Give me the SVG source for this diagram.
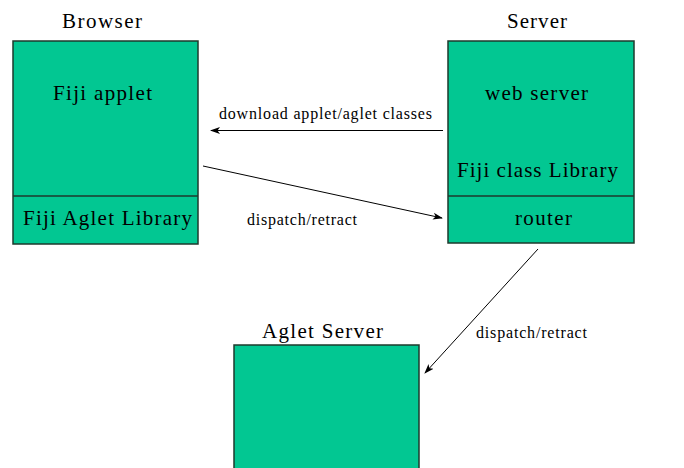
<svg xmlns="http://www.w3.org/2000/svg" width="684" height="468" viewBox="0 0 684 468">
<style>
.box{fill:#02C792;stroke:#1E3A2C;stroke-width:1.5}
text{font-family:'Liberation Serif','Times New Roman','DejaVu Serif',serif;fill:#000}
.big{font-size:21px}
.sm{font-size:16px}
.c{stroke:#000;stroke-width:1;fill:none}
</style>
<defs>
<marker id="ah" markerWidth="10" markerHeight="8" refX="9" refY="4" orient="auto" markerUnits="userSpaceOnUse">
<path d="M0,0.5 L10,4 L0,7.5 L2.5,4 Z" fill="#000"/>
</marker>
</defs>
<g id="browser">
<text class="big" x="62" y="28" textLength="80" lengthAdjust="spacing">Browser</text>
<rect class="box" x="13" y="41" width="185" height="203"/>
<line x1="13" y1="196" x2="198" y2="196" stroke="#1E3A2C" stroke-width="1.5"/>
<text class="big" x="53" y="100" textLength="99" lengthAdjust="spacing">Fiji applet</text>
<text class="big" x="23" y="225" textLength="169" lengthAdjust="spacing">Fiji Aglet Library</text>
</g>
<g id="server">
<text class="big" x="507" y="28" textLength="60" lengthAdjust="spacing">Server</text>
<rect class="box" x="448" y="41" width="186" height="202"/>
<line x1="448" y1="196" x2="634" y2="196" stroke="#1E3A2C" stroke-width="1.5"/>
<text class="big" x="485" y="100" textLength="103" lengthAdjust="spacing">web server</text>
<text class="big" x="457" y="177" textLength="161" lengthAdjust="spacing">Fiji class Library</text>
<text class="big" x="515" y="225" textLength="57" lengthAdjust="spacing">router</text>
</g>
<g id="aglet-server">
<text class="big" x="262" y="338" textLength="121" lengthAdjust="spacing">Aglet Server</text>
<rect class="box" x="234" y="345" width="185" height="130"/>
</g>
<g id="connectors">
<line class="c" x1="443" y1="130.5" x2="211" y2="130.5" marker-end="url(#ah)"/>
<text class="sm" x="219" y="119" textLength="213" lengthAdjust="spacing">download applet/aglet classes</text>
<line class="c" x1="203" y1="166" x2="442" y2="218" marker-end="url(#ah)"/>
<text class="sm" x="247" y="225" textLength="110" lengthAdjust="spacing">dispatch/retract</text>
<line class="c" x1="538" y1="249" x2="425" y2="373" marker-end="url(#ah)"/>
<text class="sm" x="476" y="338" textLength="111" lengthAdjust="spacing">dispatch/retract</text>
</g>
</svg>
